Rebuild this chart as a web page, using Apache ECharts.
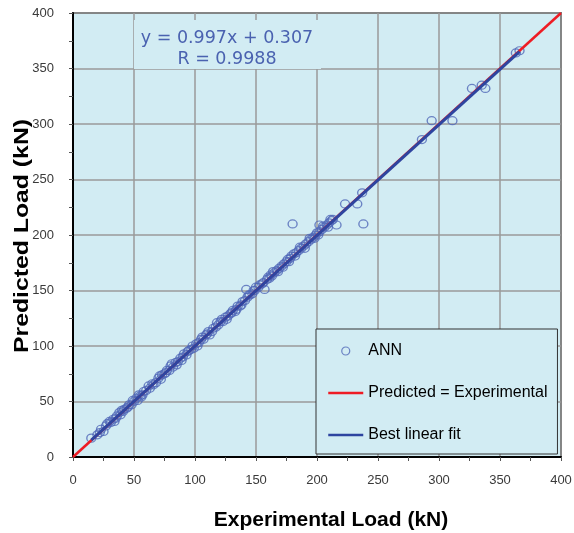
<!DOCTYPE html>
<html>
<head>
<meta charset="utf-8">
<title>ANN - predicted vs experimental load</title>
<script src="https://cdn.jsdelivr.net/npm/echarts@6/dist/echarts.min.js"></script>
<style>
  html, body { margin: 0; padding: 0; background: #fff; }
  #chart { width: 574px; height: 533px; }
</style>
</head>
<body>
<div id="chart"></div>
<script>
// points (kN)
const experimental = [
  15, 22, 23, 25, 28, 31, 33, 34, 36, 38, 39, 41, 42, 44, 46, 48, 50, 52, 53, 55,
  57, 58, 60, 63, 65, 68, 70, 72, 73, 75, 77, 79, 80, 82, 84, 86, 88, 90, 91, 93,
  95, 97, 99, 101, 103, 105, 107, 109, 110, 112, 115, 117, 119, 121, 123, 125, 127, 129, 131, 133,
  135, 137, 139, 141, 142, 143, 145, 147, 149, 150, 152, 155, 157, 159, 160, 161, 162, 163, 165, 167,
  169, 171, 173, 175, 176, 178, 179, 180, 181, 183, 185, 187, 189, 191, 193, 195, 197, 199, 200, 202,
  202, 204, 206, 208, 210, 212, 213, 216, 223, 233, 237, 238, 286, 294, 311, 327, 335, 338, 363, 366,
  20, 27, 30, 35, 40, 45, 49, 54, 56, 62, 66, 71, 76, 81, 85, 89, 94, 98, 102, 106,
  111, 114, 118, 122, 126, 130, 134, 138, 144, 148, 153, 156, 164, 168, 172, 177, 182, 186, 190, 194,
  198, 201, 205, 209, 211
]
const predicted = [
  17, 22, 25, 23, 30, 31, 34, 32, 37, 40, 38, 41, 43, 44, 47, 47, 50, 53, 51, 55,
  56, 59, 60, 62, 66, 67, 71, 70, 74, 75, 78, 78, 82, 81, 85, 86, 89, 90, 93, 92,
  96, 97, 98, 102, 103, 106, 106, 110, 111, 110, 116, 117, 119, 122, 122, 126, 127, 129, 132, 131,
  136, 136, 140, 141, 151, 144, 146, 147, 150, 153, 153, 156, 151, 160, 162, 161, 164, 163, 166, 168,
  170, 172, 174, 176, 178, 179, 181, 210, 183, 184, 186, 188, 190, 192, 194, 196, 198, 200, 202, 203,
  209, 205, 207, 209, 211, 213, 214, 209, 228, 228, 238, 210, 286, 303, 303, 332, 335, 332, 364, 366,
  20, 28, 32, 35, 42, 45, 51, 56, 54, 64, 65, 73, 76, 84, 83, 87, 95, 100, 100, 108,
  113, 113, 121, 124, 124, 130, 133, 137, 146, 150, 155, 157, 167, 167, 171, 176, 181, 189, 188, 197,
  197, 200, 208, 207, 214
]

// y = x and the fitted line y = 0.997x + 0.307 (end points)
const idealLine = [[0, 0], [400, 400]]
const fitLine = [[15, 15.26], [366, 365.21]]

const axisMin = 0
const axisMax = 400
const axisStep = 50

const equationText = 'y = 0.997x + 0.307\nR = 0.9988'
const xTitle = 'Experimental Load (kN)'
const yTitle = 'Predicted Load (kN)'

const annPoints = experimental.map((x, i) => [x, predicted[i]])

const chart = echarts.init(document.getElementById('chart'))

const labelStyle = {
  fontFamily: 'Liberation Sans',
  fontSize: 13,
  color: '#3a3a3a'
}

const valueAxis = {
  type: 'value',
  min: axisMin,
  max: axisMax,
  interval: axisStep,
  axisLine: { lineStyle: { color: '#000', width: 2 } },
  axisTick: { length: 4, lineStyle: { color: '#555' } },
  minorTick: { show: true, splitNumber: 2, length: 4, lineStyle: { color: '#555' } },
  splitLine: { lineStyle: { color: '#9a9a9a', width: 1.5 } }
}

const option = {
  animation: false,
  backgroundColor: '#fff',
  grid: {
    left: 73,
    right: 13,
    top: 13,
    bottom: 76,
    outerBoundsMode: 'none',
    show: true,
    backgroundColor: '#d2ecf3',
    borderColor: '#111',
    borderWidth: 1.5
  },
  legend: {
    orient: 'vertical',
    left: 316,
    top: 329,
    padding: [14, 10, 11, 11],
    itemGap: 26,
    itemWidth: 35,
    itemHeight: 8,
    selectedMode: false,
    backgroundColor: '#d2ecf3',
    borderColor: '#333',
    borderWidth: 1,
    borderRadius: 0,
    lineStyle: { width: 2.5 },
    textStyle: { fontFamily: 'Liberation Sans', fontSize: 16, color: '#000' },
    data: [
      {
        name: 'ANN',
        icon: 'circle',
        itemStyle: { color: 'rgba(0,0,0,0)', borderColor: '#5068b8', borderWidth: 1.2 }
      },
      { name: 'Predicted = Experimental', itemStyle: { opacity: 0 } },
      { name: 'Best linear fit', itemStyle: { opacity: 0 } }
    ]
  },
  xAxis: Object.assign({}, valueAxis, {
    name: xTitle,
    nameLocation: 'middle',
    nameGap: 53,
    nameTextStyle: {
      fontFamily: 'Liberation Sans',
      fontSize: 21,
      fontWeight: 'bold',
      color: '#000',
      padding: [0, 0, 0, 28]
    },
    axisLabel: Object.assign({ margin: 17 }, labelStyle)
  }),
  yAxis: Object.assign({}, valueAxis, {
    axisLabel: Object.assign({ margin: 19 }, labelStyle)
  }),
  graphic: [
    {
      // y title drawn as text so it can be stretched like the original
      type: 'text',
      x: 22,
      y: 236,
      rotation: Math.PI / 2,
      scaleX: 1.18,
      style: {
        text: yTitle,
        textAlign: 'center',
        textVerticalAlign: 'middle',
        fontFamily: 'Liberation Sans',
        fontSize: 21,
        fontWeight: 'bold',
        fill: '#000'
      }
    },
    {
      type: 'rect',
      left: 134,
      top: 20,
      shape: { width: 187, height: 49 },
      style: { fill: '#d2ecf3' },
      z: 5
    },
    {
      type: 'text',
      x: 227,
      y: 28,
      style: {
        text: equationText,
        textAlign: 'center',
        textVerticalAlign: 'top',
        fontFamily: 'DejaVu Sans',
        fontSize: 17.5,
        lineHeight: 21,
        fill: '#4a62b0'
      },
      z: 6
    }
  ],
  series: [
    {
      name: 'ANN',
      type: 'scatter',
      data: annPoints,
      symbol: 'circle',
      symbolSize: [9, 8],
      itemStyle: { color: 'rgba(0,0,0,0)', borderColor: '#5068b8', borderWidth: 1.3 },
      z: 2
    },
    {
      name: 'Predicted = Experimental',
      type: 'line',
      data: idealLine,
      symbol: 'none',
      color: '#ee1c24',
      lineStyle: { color: '#ee1c24', width: 2.5 },
      z: 3
    },
    {
      name: 'Best linear fit',
      type: 'line',
      data: fitLine,
      symbol: 'none',
      color: '#2e45a0',
      lineStyle: { color: '#2e45a0', width: 3 },
      z: 4
    }
  ]
}

chart.setOption(option)
</script>
</body>
</html>
